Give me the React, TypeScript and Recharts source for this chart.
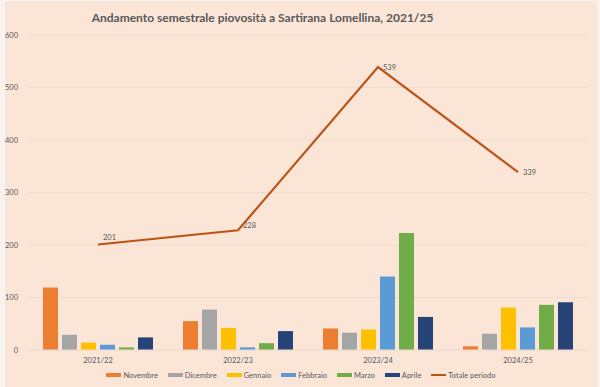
import React from "react";
import {
  ComposedChart,
  Bar,
  Line,
  XAxis,
  YAxis,
  CartesianGrid,
  Legend,
  LabelList,
} from "recharts";

const categories = ["2021/22", "2022/23", "2023/24", "2024/25"];
const novembre = [119, 55, 41, 7];
const dicembre = [29, 77, 33, 31];
const gennaio = [14, 42, 39, 81];
const febbraio = [10, 5, 140, 43];
const marzo = [5, 13, 223, 86];
const aprile = [24, 36, 63, 91];
const totale = [201, 228, 539, 339];
const yTicks = [0, 100, 200, 300, 400, 500, 600];

const barSeries = [
  { key: "Novembre", values: novembre, color: "#ED7D31" },
  { key: "Dicembre", values: dicembre, color: "#A5A5A5" },
  { key: "Gennaio", values: gennaio, color: "#FFC000" },
  { key: "Febbraio", values: febbraio, color: "#5B9BD5" },
  { key: "Marzo", values: marzo, color: "#70AD47" },
  { key: "Aprile", values: aprile, color: "#264478" },
];
const lineColor = "#BA5418";

const data = categories.map((c, i) => {
  const row: Record<string, any> = { name: c, "Totale periodo": totale[i] };
  barSeries.forEach((s) => (row[s.key] = s.values[i]));
  return row;
});

const FONT = "Lato, 'Open Sans', sans-serif";

const renderLegend = () => (
  <div
    style={{
      display: "flex",
      justifyContent: "center",
      alignItems: "center",
      fontFamily: FONT,
      fontSize: 7.5,
      color: "#595959",
      height: 14,
      paddingLeft: 14,
    }}
  >
    {barSeries.map((s) => (
      <div key={s.key} style={{ display: "flex", alignItems: "center", marginRight: 10 }}>
        <div style={{ width: 15, height: 4, background: s.color, marginRight: 2 }} />
        <span>{s.key}</span>
      </div>
    ))}
    <div style={{ display: "flex", alignItems: "center" }}>
      <div style={{ width: 15, height: 2, background: lineColor, marginRight: 2 }} />
      <span>Totale periodo</span>
    </div>
  </div>
);

const labelShift = [-7, -5, 0, 0];

const renderLineLabel = (props: any) => {
  const { x, y, value, index } = props;
  return (
    <text
      x={x + 5}
      y={y + (labelShift[index] || 0)}
      dy="0.35em"
      fontSize={7.5}
      fill="#595959"
      fontFamily={FONT}
      textAnchor="start"
    >
      {value}
    </text>
  );
};

export default function App() {
  return (
    <div
      style={{
        position: "absolute",
        left: 0,
        top: 0,
        width: 600,
        height: 387,
        background: "#F7F3F1",
      }}
    >
      <div
        style={{
          position: "absolute",
          left: 5,
          top: 1,
          width: 592,
          height: 386,
          background: "#FBE5D6",
        }}
      />
      <div
        style={{
          position: "absolute",
          left: 0,
          top: 10,
          width: 525,
          textAlign: "center",
          fontFamily: FONT,
          fontWeight: 700,
          fontSize: 12,
          color: "#595959",
        }}
      >
        Andamento semestrale piovosità a Sartirana Lomellina, 2021/25
      </div>
      <div style={{ position: "absolute", left: 0, top: 0 }}>
        <ComposedChart
          width={600}
          height={387}
          data={data}
          margin={{ top: 35, right: 12, bottom: 5, left: 0 }}
          barGap={4}
          barCategoryGap={15}
        >
          <CartesianGrid vertical={false} stroke="#EFDCD0" strokeWidth={1} />
          <XAxis
            dataKey="name"
            axisLine={{ stroke: "#EFDCD0" }}
            tickLine={false}
            tick={{ fontSize: 7.5, fill: "#595959", fontFamily: FONT }}
            height={18}
          />
          <YAxis
            domain={[0, 600]}
            ticks={yTicks}
            width={28}
            axisLine={false}
            tickLine={false}
            tick={{ fontSize: 7.5, fill: "#595959", fontFamily: FONT }}
            tickMargin={4}
          />
          {barSeries.map((s) => (
            <Bar
              key={s.key}
              dataKey={s.key}
              fill={s.color}
              barSize={15}
              isAnimationActive={false}
            />
          ))}
          <Line
            type="linear"
            dataKey="Totale periodo"
            stroke={lineColor}
            strokeWidth={2.2}
            dot={false}
            isAnimationActive={false}
          >
            <LabelList dataKey="Totale periodo" content={renderLineLabel} />
          </Line>
          <Legend content={renderLegend} verticalAlign="bottom" height={14} />
        </ComposedChart>
      </div>
    </div>
  );
}
